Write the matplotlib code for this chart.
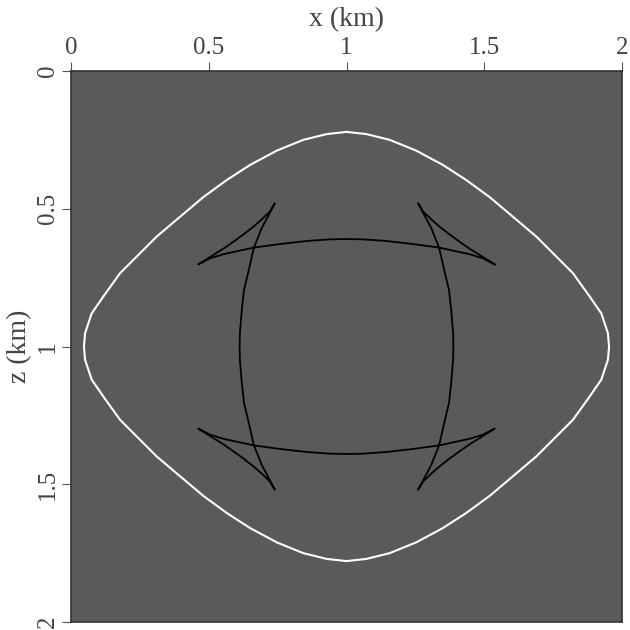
import matplotlib
matplotlib.use('Agg')
import matplotlib.pyplot as plt

# outer wavefront (white), x and z in km
white_x = [1.000, 0.928, 0.843, 0.747, 0.650, 0.565, 0.480, 0.396, 0.311, 0.238, 0.178, 0.117, 0.075, 0.051, 0.047,
           0.051, 0.075, 0.117, 0.178, 0.238, 0.311, 0.396, 0.480, 0.565, 0.650, 0.747, 0.843, 0.928, 1.000,
           1.072, 1.157, 1.253, 1.350, 1.435, 1.520, 1.604, 1.689, 1.762, 1.822, 1.883, 1.925, 1.949, 1.953,
           1.949, 1.925, 1.883, 1.822, 1.762, 1.689, 1.604, 1.520, 1.435, 1.350, 1.253, 1.157, 1.072, 1.000]
white_z = [0.221, 0.229, 0.250, 0.289, 0.341, 0.396, 0.458, 0.529, 0.601, 0.674, 0.734, 0.819, 0.880, 0.952, 1.000,
           1.048, 1.120, 1.181, 1.266, 1.326, 1.399, 1.471, 1.542, 1.604, 1.659, 1.711, 1.750, 1.771, 1.779,
           1.771, 1.750, 1.711, 1.659, 1.604, 1.542, 1.471, 1.399, 1.326, 1.266, 1.181, 1.120, 1.048, 1.000,
           0.952, 0.880, 0.819, 0.734, 0.674, 0.601, 0.529, 0.458, 0.396, 0.341, 0.289, 0.250, 0.229, 0.221]

# inner wavefront with triplications (black)
front_x = [1.538, 1.495, 1.447, 1.336, 1.241, 1.144, 1.060, 1.000, 0.940, 0.856, 0.759, 0.664, 0.553, 0.505, 0.462,
           0.505, 0.553, 0.589, 0.625, 0.662, 0.692, 0.722, 0.740,
           0.692, 0.664, 0.644, 0.628, 0.620, 0.613, 0.612, 0.613, 0.620, 0.628, 0.644, 0.664, 0.692, 0.740,
           0.722, 0.692, 0.662, 0.625, 0.589, 0.553, 0.505, 0.462,
           0.505, 0.553, 0.664, 0.759, 0.856, 0.940, 1.000, 1.060, 1.144, 1.241, 1.336, 1.447, 1.495, 1.538,
           1.495, 1.447, 1.411, 1.375, 1.338, 1.308, 1.278, 1.260,
           1.308, 1.336, 1.356, 1.372, 1.380, 1.387, 1.388, 1.387, 1.380, 1.372, 1.356, 1.336, 1.308, 1.260,
           1.278, 1.308, 1.338, 1.375, 1.411, 1.447, 1.495, 1.538]
front_z = [0.702, 0.680, 0.665, 0.641, 0.628, 0.617, 0.611, 0.610, 0.611, 0.617, 0.628, 0.641, 0.665, 0.680, 0.702,
           0.675, 0.645, 0.620, 0.594, 0.565, 0.539, 0.510, 0.480,
           0.571, 0.641, 0.728, 0.795, 0.867, 0.952, 1.000, 1.048, 1.133, 1.205, 1.272, 1.359, 1.429, 1.520,
           1.490, 1.461, 1.435, 1.406, 1.380, 1.355, 1.325, 1.298,
           1.320, 1.335, 1.359, 1.372, 1.383, 1.389, 1.390, 1.389, 1.383, 1.372, 1.359, 1.335, 1.320, 1.298,
           1.325, 1.355, 1.380, 1.406, 1.435, 1.461, 1.490, 1.520,
           1.429, 1.359, 1.272, 1.205, 1.133, 1.048, 1.000, 0.952, 0.867, 0.795, 0.728, 0.641, 0.571, 0.480,
           0.510, 0.539, 0.565, 0.594, 0.620, 0.645, 0.675, 0.702]

ticks = [0, 0.5, 1, 1.5, 2]
tick_labels = ['0', '0.5', '1', '1.5', '2']

plt.rcParams['font.family'] = ['Liberation Serif', 'DejaVu Serif']
txt = '#444444'

fig = plt.figure(figsize=(6.3, 6.3), dpi=100)
ax = fig.add_axes([71/630, 8/630, 551/630, 551/630])
ax.set_facecolor('#5a5a5a')

ax.plot(white_x, white_z, color='white', lw=1.5)
ax.plot(front_x, front_z, color='black', lw=1.3)

ax.set_xlim(0, 2)
ax.set_ylim(2, 0)

ax.xaxis.tick_top()
ax.xaxis.set_label_position('top')
ax.set_xticks(ticks)
ax.set_xticklabels(tick_labels)
ax.set_yticks(ticks)
ax.set_yticklabels(tick_labels, rotation=90, va='center')
ax.tick_params(direction='out', length=6.5, width=0.8, colors='#555555',
               labelcolor=txt, labelsize=18, pad=2)
ax.set_xlabel('x (km)', fontsize=20, color=txt, labelpad=8)
ax.set_ylabel('z (km)', fontsize=20, color=txt, labelpad=4)

for s in ax.spines.values():
    s.set_color('#333333')
    s.set_linewidth(1.2)

fig.savefig('out.png', dpi=100)
